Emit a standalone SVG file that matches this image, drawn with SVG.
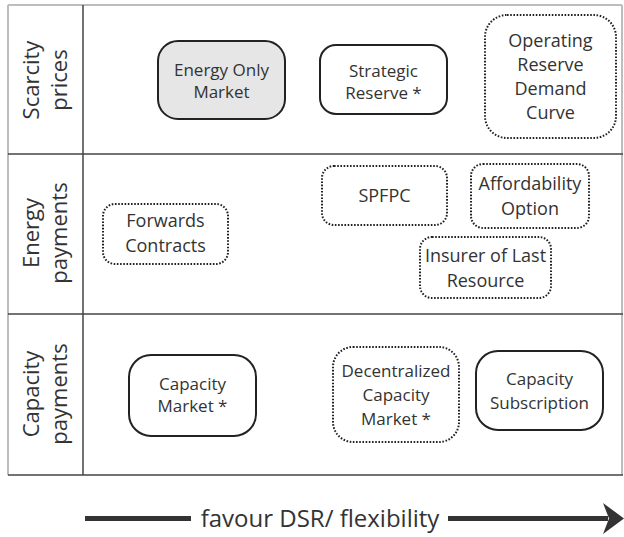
<svg xmlns="http://www.w3.org/2000/svg" width="624" height="537" viewBox="0 0 624 537">
<style>
  text { font-family: "Open Sans", "Noto Sans", sans-serif; fill: #333; text-anchor: middle; }
  .row { font-size: 22px; }
  .s { font-size: 17px; }
  .d { font-size: 18px; }
  .solid { fill: #fff; stroke: #222; stroke-width: 2; }
  .grey { fill: #e6e6e6; stroke: #222; stroke-width: 2; }
  .dot { fill: #fff; stroke: #222; stroke-width: 2; stroke-dasharray: 1.6 1.6; }
  .light { stroke: #bdbdbd; stroke-width: 2; fill: none; }
  .dark { stroke: #444; stroke-width: 1.5; fill: none; }
</style>
<rect width="624" height="537" fill="#fff"/>
<g id="table">
  <line class="light" x1="8" y1="5" x2="622" y2="5"/>
  <line class="light" x1="8" y1="5" x2="8" y2="475"/>
  <line class="light" x1="622" y1="5" x2="622" y2="475"/>
  <line class="dark" x1="8" y1="154" x2="623" y2="154"/>
  <line class="dark" x1="8" y1="314" x2="623" y2="314" stroke="#666" stroke-width="2"/>
  <line class="dark" x1="8" y1="475" x2="623" y2="475"/>
  <line class="dark" x1="83" y1="5" x2="83" y2="475"/>
</g>
<g id="row-scarcity">
  <text class="row" transform="translate(39,80) rotate(-90)">Scarcity</text>
  <text class="row" transform="translate(67,80) rotate(-90)">prices</text>
</g>
<g id="row-energy">
  <text class="row" transform="translate(39,233) rotate(-90)">Energy</text>
  <text class="row" transform="translate(67,233) rotate(-90)">payments</text>
</g>
<g id="row-capacity">
  <text class="row" transform="translate(39,394) rotate(-90)">Capacity</text>
  <text class="row" transform="translate(67,394) rotate(-90)">payments</text>
</g>
<g id="energy-only-market">
  <rect class="grey" x="158" y="41" width="127" height="78" rx="20"/>
  <text class="s" x="221.5" y="76">Energy Only</text>
  <text class="s" x="221.5" y="98">Market</text>
</g>
<g id="strategic-reserve">
  <rect class="solid" x="320" y="45" width="127" height="69" rx="16"/>
  <text class="s" x="383.5" y="77">Strategic</text>
  <text class="s" x="383.5" y="99">Reserve *</text>
</g>
<g id="ordc">
  <rect class="dot" x="485" y="15" width="131" height="123" rx="22"/>
  <text class="d" x="550.5" y="47">Operating</text>
  <text class="d" x="550.5" y="71">Reserve</text>
  <text class="d" x="550.5" y="95">Demand</text>
  <text class="d" x="550.5" y="119">Curve</text>
</g>
<g id="forwards-contracts">
  <rect class="dot" x="103" y="204" width="125" height="60" rx="12"/>
  <text class="d" x="165.5" y="227">Forwards</text>
  <text class="d" x="165.5" y="252">Contracts</text>
</g>
<g id="spfpc">
  <rect class="dot" x="322" y="166" width="125" height="59" rx="12"/>
  <text class="d" x="384.5" y="202">SPFPC</text>
</g>
<g id="affordability-option">
  <rect class="dot" x="471" y="164" width="118" height="64" rx="12"/>
  <text class="d" x="530" y="190">Affordability</text>
  <text class="d" x="530" y="215">Option</text>
</g>
<g id="insurer-of-last-resource">
  <rect class="dot" x="420" y="237" width="131" height="61" rx="12"/>
  <text class="d" x="485.5" y="262">Insurer of Last</text>
  <text class="d" x="485.5" y="287">Resource</text>
</g>
<g id="capacity-market">
  <rect class="solid" x="129" y="355" width="127" height="81" rx="22"/>
  <text class="s" x="192.5" y="390">Capacity</text>
  <text class="s" x="192.5" y="412">Market *</text>
</g>
<g id="decentralized-capacity-market">
  <rect class="dot" x="333" y="347" width="126" height="95" rx="20"/>
  <text class="s" x="396" y="377">Decentralized</text>
  <text class="s" x="396" y="401">Capacity</text>
  <text class="s" x="396" y="425">Market *</text>
</g>
<g id="capacity-subscription">
  <rect class="solid" x="476" y="351" width="127" height="79" rx="22"/>
  <text class="s" x="539.5" y="385">Capacity</text>
  <text class="s" x="539.5" y="409">Subscription</text>
</g>
<g id="connectors">
  <line x1="85" y1="518.5" x2="191" y2="518.5" stroke="#333" stroke-width="5"/>
  <line x1="448" y1="518.5" x2="608" y2="518.5" stroke="#333" stroke-width="5"/>
  <path d="M603,503 L624,518.5 L603,534 L609,518.5 Z" fill="#333"/>
  <text x="320" y="527" style="font-size:24px">favour DSR/ flexibility</text>
</g>
</svg>
